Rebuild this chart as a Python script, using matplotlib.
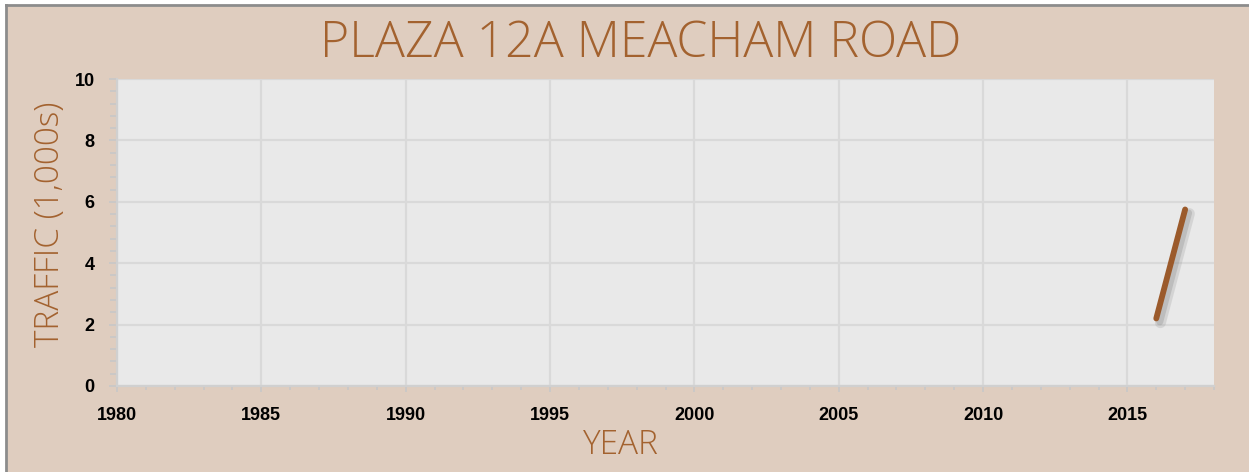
import matplotlib
matplotlib.use("Agg")
import matplotlib.pyplot as plt
import matplotlib.patheffects as pe
from matplotlib.ticker import MultipleLocator
from matplotlib.lines import Line2D

years = [2016, 2017]
traffic = [2.2, 5.75]
title = "PLAZA 12A MEACHAM ROAD"
xlabel = "YEAR"
ylabel = "TRAFFIC (1,000s)"

BG = "#dfcdbf"
PLOT_BG = "#e9e9e9"
GRID = "#d9d9d9"
BROWN = "#9b5a2b"
TEXT_BROWN = "#a3622f"
TITLE_FONT = dict(family=["Open Sans", "Lato"], fontweight="light")

fig = plt.figure(figsize=(12.49, 4.72), dpi=100, facecolor=BG)
ax = fig.add_axes([117/1249, 1-386/472, (1214-117)/1249, (386-79)/472])
ax.set_facecolor(PLOT_BG)

ax.plot(years, traffic, color=BROWN, lw=4.2, solid_capstyle="round",
        path_effects=[pe.SimpleLineShadow(offset=(3, -3), shadow_color="#999999", alpha=0.25, linewidth=8),
                      pe.SimpleLineShadow(offset=(2.5, -2.5), shadow_color="#888888", alpha=0.3, linewidth=5),
                      pe.Normal()], zorder=3)

ax.set_xlim(1980, 2018)
ax.set_ylim(0, 10)
ax.xaxis.set_major_locator(MultipleLocator(5))
ax.xaxis.set_minor_locator(MultipleLocator(1))
ax.yaxis.set_major_locator(MultipleLocator(2))
ax.yaxis.set_minor_locator(MultipleLocator(0.4))
ax.grid(True, which="major", color=GRID, lw=1.6, zorder=0)
ax.set_axisbelow(True)

for s in ["top", "right"]:
    ax.spines[s].set_visible(False)
for s in ["left", "bottom"]:
    ax.spines[s].set_color("#d0d0d0")
    ax.spines[s].set_linewidth(1.6)

ax.tick_params(axis="both", which="both", colors="#c8c8c8", width=1.2)
ax.tick_params(axis="y", which="major", length=6, pad=10)
ax.tick_params(axis="y", which="minor", length=5)
ax.tick_params(axis="x", which="major", length=4, pad=11)
ax.tick_params(axis="x", which="minor", length=3)
for lab in ax.get_xticklabels() + ax.get_yticklabels():
    lab.set_color("black")
    lab.set_fontweight("bold")
    lab.set_fontsize(13)
    lab.set_fontfamily("Liberation Sans")

fig.text(641/1249, 1-44/472, title, ha="center", va="center", fontsize=36,
         color=TEXT_BROWN, **TITLE_FONT)
fig.text(621/1249, 1-445/472, xlabel, ha="center", va="center", fontsize=24,
         color=TEXT_BROWN, **TITLE_FONT)
fig.text(50/1249, 1-224/472, ylabel, ha="center", va="center", fontsize=24,
         color=TEXT_BROWN, rotation=90, **TITLE_FONT)

# figure border (top and left visible)
fig.add_artist(Line2D([6/1249, 6/1249], [0, 1-5/472], transform=fig.transFigure, color="#8c8c8c", lw=2))
fig.add_artist(Line2D([6/1249, 1], [1-5/472, 1-5/472], transform=fig.transFigure, color="#8c8c8c", lw=2))
fig.patches.append(plt.Rectangle((0, 0), 6/1249, 1, transform=fig.transFigure, color="white", zorder=-1))
fig.patches.append(plt.Rectangle((0, 1-5/472), 1, 5/472, transform=fig.transFigure, color="white", zorder=-1))

fig.savefig("out.png", dpi=100, facecolor=BG)
